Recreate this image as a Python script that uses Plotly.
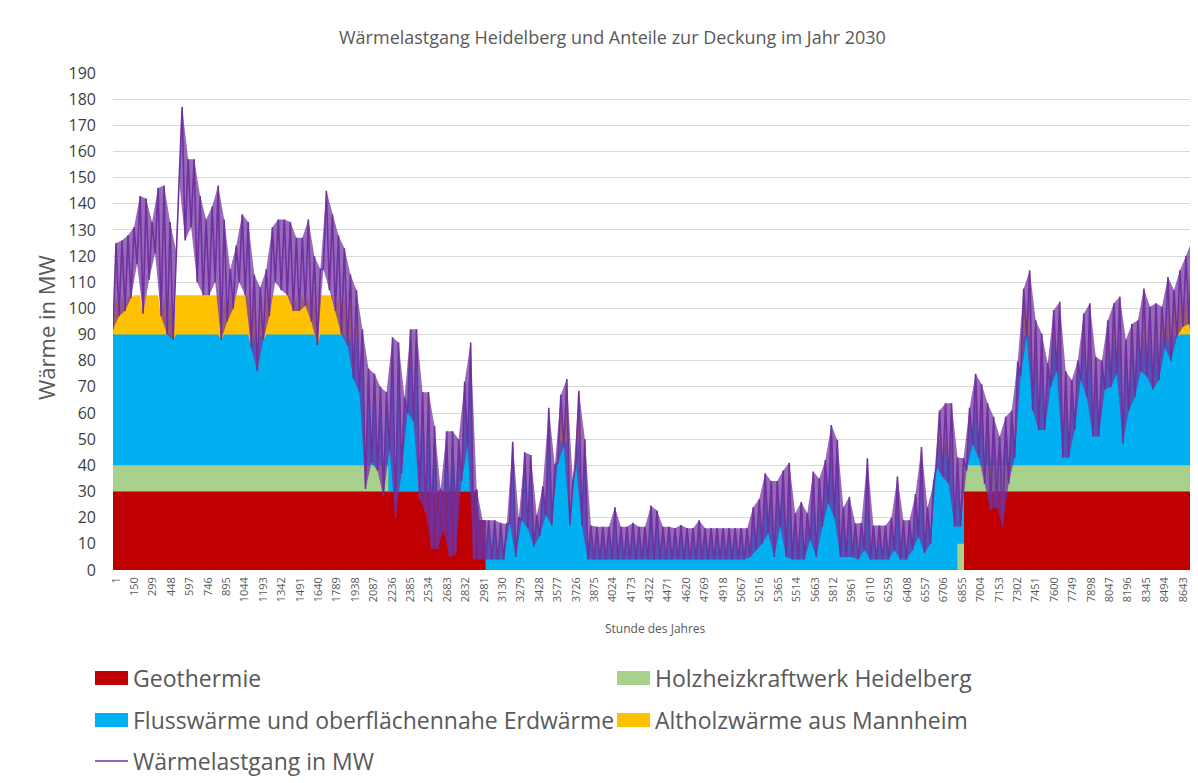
import numpy as np
import plotly.graph_objects as go

# ── Geometrie ────────────────────────────────────────────────────────────────
# Die Seite hat 8 px Rand (body margin), deshalb wird die Figur um OFF verschoben.
OFF = 8
W, H = 1198 - OFF, 783 - OFF
# Plotbereich in Bildschirm-Pixeln (wie in der Vorlage)
SL, SR, ST, SB = 113, 1198, 73, 570
X_MIN, X_MAX = -23.3, 8764               # Stundenachse

# ── Daten: Wärmelast in MW, je ~48 h ein Tief- und ein Hochwert ─
LOAD_HIGH = [
    # Stunde 1 - 1490
    125, 126, 128, 131, 143, 142, 133, 146, 147, 133, 122, 177, 157, 157, 143, 134,
    139, 147, 134, 115, 124, 136, 133, 113, 108, 115, 131, 134, 134, 133, 127,
    # 1490 - 2990
    127, 134, 120, 115, 145, 136, 128, 123, 113, 107, 92, 77, 75, 70, 68, 89,
    87, 66, 92, 92, 68, 68, 55, 31, 53, 53, 50, 72, 87, 31, 19,
    # 2990 - 4490
    19, 19, 18, 17.6, 49, 20, 45, 44, 21, 32, 62, 40, 67, 73, 33.5, 68.5,
    50, 17, 16.5, 16.5, 16.5, 24, 16.5, 16.5, 18, 16.5, 16.5, 24.6, 22.7, 16.5, 16.5,
    # 4490 - 5990
    16, 17.2, 16, 16, 19, 16, 16, 16, 16, 16, 16, 16, 16, 24, 27, 37,
    34, 34, 38, 41, 21.7, 26, 21.7, 37.6, 35, 42, 55.4, 49.7, 24, 28, 17.8,
    # 5990 - 7480
    18, 42.7, 17, 17, 17, 20, 35.7, 19, 19, 29, 47, 24, 33, 61, 63.7, 63.7,
    43, 42.7, 62, 75, 71, 63.7, 58.6, 51, 58.6, 61, 79.6, 107.6, 114.6, 95.5, 90.4,
    # 7480 - 8760
    79, 99.4, 102.5, 76, 72.6, 80, 98, 102, 81.5, 80, 95.5, 102, 104.5,
    88, 94, 95.5, 107.6, 100.6, 102, 100.6, 112, 107, 114.6, 120, 126, 112,
]
LOAD_LOW = [
    92, 97, 99, 104, 117, 98, 111, 121, 97, 90, 88, 149, 126, 131, 110, 105,
    105, 110, 88, 95, 100, 110, 105, 85, 76, 88, 97, 110, 107, 105, 99,
    99, 101, 95, 86, 115, 107, 99, 90, 86, 73, 68, 31, 41, 38, 28, 46,
    20, 37, 60, 57, 27, 22, 8, 8, 15, 5, 6, 34, 47, 4, 4,
    4, 4, 4, 4, 18, 5, 19, 16, 9, 13, 21, 17, 41, 47, 17, 41,
    17, 4, 4, 4, 4, 4, 4, 4, 4, 4, 4, 4, 4, 4, 4,
    4, 4, 4, 4, 4, 4, 4, 4, 4, 4, 4, 4, 4, 5, 7.6, 10,
    14, 5, 16.6, 5, 4, 4, 4, 11.5, 5, 16.6, 25.5, 20, 5, 5, 5,
    4, 7.6, 4, 4, 4, 4, 7.6, 4, 4, 7.6, 12.7, 6.4, 10, 39.5, 35.7, 33,
    16.6, 16.6, 38, 48, 43, 33, 23, 24, 16.6, 33, 43, 74, 89, 61, 53.5,
    53.5, 70, 76, 43, 43, 53.5, 72.6, 66, 51, 51, 69, 70, 75,
    48.4, 61, 66, 76, 74, 69, 72.6, 85, 80, 89, 93, 94, 81.5,
]

# Erzeuger: Leistung je Zeitabschnitt (Stundengrenzen)
GEO_EDGES = [X_MIN, 2930, 2995, 6869, X_MAX]
GEO_MW = [30, 19, 0, 30]
HOLZ_EDGES = [X_MIN, 2206, 6815, X_MAX]
HOLZ_MW = [10, 0, 10]
FLUSS_CAP = 50
ALTHOLZ_CAP = 15

X_TICKS = [1, 150, 299, 448, 597, 746, 895, 1044, 1193, 1342, 1491, 1640, 1789,
           1938, 2087, 2236, 2385, 2534, 2683, 2832, 2981, 3130, 3279, 3428, 3577,
           3726, 3875, 4024, 4173, 4322, 4471, 4620, 4769, 4918, 5067, 5216, 5365,
           5514, 5663, 5812, 5961, 6110, 6259, 6408, 6557, 6706, 6855, 7004, 7153,
           7302, 7451, 7600, 7749, 7898, 8047, 8196, 8345, 8494, 8643]

C_GEO, C_HOLZ, C_FLUSS, C_ALT, C_LOAD = "#C00000", "#A9D18E", "#00B0F0", "#FFC000", "#7030A0"
TXT = "#595959"
FONT = "Open Sans"


def step_value(edges, vals, x):
    idx = np.clip(np.searchsorted(edges, x, side="right") - 1, 0, len(vals) - 1)
    return np.asarray(vals, dtype=float)[idx]


# Lastgang zusammensetzen (Tief/Hoch abwechselnd)
load = np.empty(2 * len(LOAD_HIGH))
load[0::2] = LOAD_LOW
load[1::2] = LOAD_HIGH
hours = np.linspace(X_MIN, X_MAX, len(load))
h_low, h_high = hours[0::2], hours[1::2]

base = step_value(GEO_EDGES, GEO_MW, hours) + step_value(HOLZ_EDGES, HOLZ_MW, hours)
fluss_top = np.clip(load, base, base + FLUSS_CAP)
alt_top = np.maximum(fluss_top, np.minimum(load, base + FLUSS_CAP + ALTHOLZ_CAP))

# Stufen für Geothermie und Geothermie+Holz
all_edges = sorted(set(GEO_EDGES) | set(HOLZ_EDGES))
left = np.array(all_edges[:-1])
geo_holz = step_value(GEO_EDGES, GEO_MW, left) + step_value(HOLZ_EDGES, HOLZ_MW, left)

fig = go.Figure()
fig.add_trace(go.Scatter(x=hours, y=alt_top, mode="lines", line=dict(width=0),
                         fill="tozeroy", fillcolor=C_ALT, hoverinfo="skip"))
fig.add_trace(go.Scatter(x=hours, y=fluss_top, mode="lines", line=dict(width=0),
                         fill="tozeroy", fillcolor=C_FLUSS, hoverinfo="skip"))
fig.add_trace(go.Scatter(x=all_edges, y=list(geo_holz) + [geo_holz[-1]], mode="lines",
                         line=dict(width=0, shape="hv"), fill="tozeroy", fillcolor=C_HOLZ))
fig.add_trace(go.Scatter(x=GEO_EDGES, y=GEO_MW + [GEO_MW[-1]], mode="lines",
                         line=dict(width=0, shape="hv"), fill="tozeroy", fillcolor=C_GEO))
# dichtes Band des stündlichen Lastgangs (zwischen Tief- und Hochwerten)
fig.add_trace(go.Scatter(x=np.concatenate([h_low, h_high[::-1]]),
                         y=np.concatenate([LOAD_LOW, LOAD_HIGH[::-1]]),
                         mode="lines", line=dict(width=0), fill="toself",
                         fillcolor="rgba(112,48,160,0.72)", hoverinfo="skip"))
fig.add_trace(go.Scatter(x=hours, y=load, mode="lines", line=dict(color=C_LOAD, width=1.6)))


def px_x(x):
    return (x - SL) / (SR - SL)


def px_y(y):
    return (SB - y) / (SB - ST)


shapes = []
annotations = [
    dict(text="Wärmelastgang Heidelberg und Anteile zur Deckung im Jahr 2030",
         x=px_x(612), y=px_y(37), font=dict(size=18, color=TXT, family=FONT)),
    dict(text="Wärme in MW", x=px_x(46), y=px_y(328), textangle=-90,
         font=dict(size=22, color=TXT, family=FONT)),
    dict(text="Stunde des Jahres", x=px_x(655), y=px_y(628),
         font=dict(size=12, color=TXT, family=FONT)),
]
for a in annotations:
    a.update(xref="paper", yref="paper", showarrow=False, xanchor="center", yanchor="middle")

legend_items = [
    ("Geothermie", C_GEO, 95, 678, "box"),
    ("Holzheizkraftwerk Heidelberg", C_HOLZ, 617, 678, "box"),
    ("Flusswärme und oberflächennahe Erdwärme", C_FLUSS, 95, 720, "box"),
    ("Altholzwärme aus Mannheim", C_ALT, 617, 720, "box"),
    ("Wärmelastgang in MW", C_LOAD, 95, 761, "line"),
]
for name, col, x0, yc, kind in legend_items:
    if kind == "box":
        shapes.append(dict(type="rect", xref="paper", yref="paper", x0=px_x(x0), x1=px_x(x0 + 33),
                           y0=px_y(yc + 7), y1=px_y(yc - 7), fillcolor=col, line=dict(width=0)))
    else:
        shapes.append(dict(type="line", xref="paper", yref="paper", x0=px_x(x0), x1=px_x(x0 + 33),
                           y0=px_y(yc), y1=px_y(yc), line=dict(color=col, width=1.5)))
    annotations.append(dict(text=name, x=px_x(x0 + 36), y=px_y(yc), xref="paper", yref="paper",
                            xanchor="left", yanchor="middle", showarrow=False,
                            font=dict(size=23, color=TXT, family=FONT)))

fig.update_layout(
    width=W, height=H,
    margin=dict(l=SL - OFF, r=0, t=ST - OFF, b=H - (SB - OFF)),
    paper_bgcolor="white", plot_bgcolor="white",
    showlegend=False,
    font=dict(family=FONT, color=TXT),
    shapes=shapes, annotations=annotations,
)
fig.update_xaxes(range=[X_MIN, X_MAX], tickmode="array", tickvals=X_TICKS,
                 ticktext=[str(t) for t in X_TICKS], tickangle=-90,
                 tickfont=dict(size=11, color=TXT), showgrid=False, zeroline=False,
                 ticks="", ticklabelstandoff=4)
fig.update_yaxes(range=[0, 190], dtick=10, gridcolor="#d9d9d9", gridwidth=1,
                 zeroline=False, tickfont=dict(size=16, color="#404040"),
                 ticks="", ticklabelstandoff=16)

fig.write_html("out.html")
